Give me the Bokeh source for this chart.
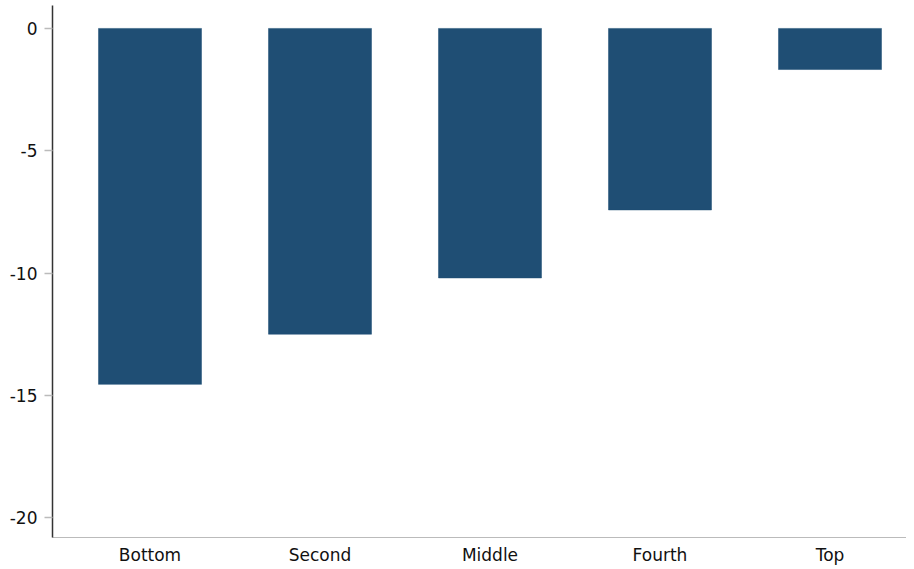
import numpy as np
from bokeh.plotting import figure
from bokeh.models import ColumnDataSource, FixedTicker, Range1d
from bokeh.embed import file_html
from bokeh.resources import INLINE

categories = ["Bottom", "Second", "Middle", "Fourth", "Top"]
values = [-14.55, -12.5, -10.2, -7.42, -1.68]
y_ticks = [0, -5, -10, -15, -20]
y_tick_labels = ["0", "-5", "-10", "-15", "-20"]

xpos = np.arange(len(categories))
src = ColumnDataSource(dict(x=xpos, top=[0] * len(values), bottom=values))

p = figure(width=906, height=567, output_backend="svg", toolbar_location=None,
           x_range=Range1d(-0.5735, 4.45), y_range=Range1d(-20.81, 0.937),
           min_border_left=52, min_border_top=5, min_border_right=0, min_border_bottom=28)

p.vbar(x="x", width=0.606, top="top", bottom="bottom", source=src,
       fill_color="#1f4e74", line_color="#1f4e74", line_width=0.5)

p.outline_line_color = None
p.grid.grid_line_color = None

p.xaxis.ticker = FixedTicker(ticks=list(xpos))
p.xaxis.major_label_overrides = {int(i): c for i, c in zip(xpos, categories)}
p.xaxis.major_tick_line_color = None
p.xaxis.major_tick_out = 0
p.xaxis.major_tick_in = 0
p.xaxis.minor_tick_line_color = None
p.xaxis.axis_line_color = "#bbbbbb"
p.xaxis.axis_line_width = 1.2
p.xaxis.major_label_standoff = 7
p.xaxis.major_label_text_font = "DejaVu Sans"
p.xaxis.major_label_text_font_size = "17px"
p.xaxis.major_label_text_color = "#111111"

p.yaxis.ticker = FixedTicker(ticks=y_ticks)
p.yaxis.major_label_overrides = {t: l for t, l in zip(y_ticks, y_tick_labels)}
p.yaxis.minor_tick_line_color = None
p.yaxis.major_tick_in = 0
p.yaxis.major_tick_out = 8
p.yaxis.major_tick_line_color = "#bbbbbb"
p.yaxis.major_tick_line_width = 1.5
p.yaxis.axis_line_color = "#333333"
p.yaxis.axis_line_width = 1.5
p.yaxis.major_label_standoff = 7
p.yaxis.major_label_text_font = "DejaVu Sans"
p.yaxis.major_label_text_font_size = "17px"
p.yaxis.major_label_text_color = "#111111"

open("out.html", "w").write(file_html(p, INLINE))
